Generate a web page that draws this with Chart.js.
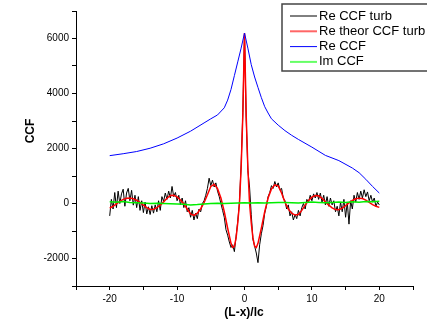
<!DOCTYPE html>
<html lang="en">
<head>
    <meta charset="UTF-8">
    <title>CCF</title>
    <script src="https://cdn.jsdelivr.net/npm/chart.js"></script>
    <style>
        body {
            margin: 0;
            padding: 0;
            background-color: #ffffff;
        }
    </style>
</head>
<body>
    <canvas id="ccfChart" width="427" height="326"></canvas>
    <script>
        // Re CCF turb: sampled every 0.25 from -20 to 20
        const turbStart = -20;
        const turbStep = 0.25;
        const reTurb = [
            -450, 150, -200, 400, -150, 450, 0, 350,
            520, -100, 380, 550, 100, 480, -60, 300,
            -150, 250, -250, 100, -330, 50, -380, -120,
            -400, -80, -350, -50, -300, 100, -250, 250,
            80, 380, 150, 450, 200, 620, 250, 400,
            100, 300, -50, 200, -150, 100, -300, -150,
            -500, -250, -600, -350, -550, -200, -300, 0,
            100, 300, 550, 920, 650, 850, 600, 750,
            450, 250, 0, -250, -500, -950, -1150, -1400,
            -1600, -1500, -1750, -1200, -650, 50, 1400, 3300,
            6200, 3100, 1200, 600, -400, -1300, -1550, -1800,
            -2150, -1500, -1100, -800, -350, -100, 250, 400,
            650, 550, 800, 600, 750, 500, 550, 200,
            100, -200, -50, -450, -300, -600, -400, -550,
            -250, -450, -150, 0, -200, 150, 50, 300,
            100, 350, 200, 400, 150, 380, 50, 300,
            -50, 250, -100, 200, -50, 100, -300, -100,
            -450, 50, -300, 150, -500, 50, -750, 100,
            -200, 300, 50, 400, 150, 450, 200, 500,
            250, 420, 100, 300, 50, 200, -100, 50,
            -50
        ];

        // Re theor CCF turb
        const theorX = [
            -20, -19.5, -19, -18.5, -18, -17.5, -17, -16.5, -16, -15.5,
            -15, -14.5, -14, -13.5, -13, -12.5, -12, -11.5, -11, -10.5,
            -10, -9.5, -9, -8.5, -8, -7.5, -7, -6.5, -6, -5.5,
            -5, -4.5, -4, -3.5, -3, -2.5, -2, -1.75, -1.5, -1.25,
            -1, -0.75, -0.5, -0.25, 0, 0.25, 0.5, 0.75, 1, 1.25,
            1.5, 1.75, 2, 2.5, 3, 3.5, 4, 4.5, 5, 5.5,
            6, 6.5, 7, 7.5, 8, 8.5, 9, 9.5, 10, 10.5,
            11, 11.5, 12, 12.5, 13, 13.5, 14, 14.5, 15, 15.5,
            16, 16.5, 17, 17.5, 18, 18.5, 19, 19.5, 20
        ];
        const theorY = [
            -170, -100, -10, 80, 150, 190, 200, 175, 120, 40,
            -60, -150, -215, -210, -150, -60, 60, 190, 290, 300,
            240, 130, -20, -200, -380, -430, -350, -190, 30, 320,
            620, 700, 540, 200, -300, -900, -1450, -1600, -1560, -1250,
            -700, 0, 1300, 3200, 6200, 3200, 1300, 0, -700, -1250,
            -1550, -1600, -1450, -900, -300, 200, 530, 680, 640, 380,
            50, -200, -350, -420, -400, -250, -60, 110, 230, 290,
            280, 190, 60, -60, -160, -220, -225, -170, -80, 20,
            110, 170, 195, 180, 120, 40, -40, -100, -140
        ];

        // Re CCF
        const reX = [
            -20, -18, -16, -14, -12, -10, -8, -6, -5, -4,
            -3, -2.5, -2, -1.5, -1, -0.5, 0, 0.5, 1, 1.5,
            2, 2.5, 3, 3.5, 4, 5, 6, 7, 8, 10,
            12, 14, 16, 17, 18, 19, 20
        ];
        const reY = [
            1740, 1810, 1890, 2010, 2170, 2380, 2630, 2930, 3080, 3220,
            3480, 3760, 4150, 4650, 5150, 5650, 6200, 5650, 5050, 4600,
            4220, 3850, 3520, 3290, 3080, 2850, 2650, 2480, 2330, 2050,
            1750, 1560, 1290, 1120, 880, 620, 380
        ];

        // Im CCF, every 1 from -20 to 20
        const imX = [
            -20, -19, -18, -17, -16, -15, -14, -13, -12, -11,
            -10, -9, -8, -7, -6, -5, -4, -3, -2, -1,
            0, 1, 2, 3, 4, 5, 6, 7, 8, 9,
            10, 11, 12, 13, 14, 15, 16, 17, 18, 19, 20
        ];
        const imY = [
            60, 50, 70, 40, 30, 20, 0, 10, 0, -10,
            -20, -30, -50, -40, -20, 0, 10, 0, 10, 20,
            30, 20, 30, 20, 30, 40, 40, 30, 20, 40,
            50, 40, 30, 40, 50, 40, 60, 50, 70, 60, 80
        ];

        const legendLabels = ['Re CCF turb', 'Re theor CCF turb', 'Re CCF', 'Im CCF'];
        const legendColors = ['#000000', '#ff6666', '#0000ff', '#66ff66'];

        function zip(xs, ys) {
            return ys.map((y, i) => ({ x: xs[i], y: y }));
        }

        const turbData = reTurb.map((y, i) => ({ x: turbStart + i * turbStep, y: y }));

        const fontFamily = '"Liberation Sans", Arial, sans-serif';

        // draws axis titles and the boxed legend like the original plot
        const decorations = {
            id: 'decorations',
            afterDraw(chart) {
                const c = chart.ctx;
                c.save();
                c.fillStyle = '#000';
                c.font = 'bold 12px ' + fontFamily;
                c.textAlign = 'center';
                c.textBaseline = 'middle';
                c.fillText('(L-x)/lc', 244, 313);
                c.translate(31, 131);
                c.rotate(-Math.PI / 2);
                c.fillText('CCF', 0, 0);
                c.restore();

                c.save();
                c.fillStyle = '#fff';
                c.fillRect(282, 4, 150, 67);
                c.strokeStyle = '#444';
                c.lineWidth = 1.5;
                c.strokeRect(282, 4, 150, 67);
                c.font = '13px ' + fontFamily;
                c.textBaseline = 'middle';
                c.textAlign = 'left';
                legendLabels.forEach((label, i) => {
                    const y = 16 + i * 15.3;
                    c.strokeStyle = legendColors[i];
                    c.lineWidth = (i === 1 || i === 3) ? 2 : 1;
                    c.beginPath();
                    c.moveTo(290, y);
                    c.lineTo(317, y);
                    c.stroke();
                    c.fillStyle = '#000';
                    c.fillText(label, 319, y);
                });
                c.restore();
            }
        };

        const ctx = document.getElementById('ccfChart').getContext('2d');
        new Chart(ctx, {
            type: 'line',
            data: {
                datasets: [
                    { label: 'Im CCF', data: zip(imX, imY), borderColor: '#00ee00', borderWidth: 1.5 },
                    { label: 'Re CCF', data: zip(reX, reY), borderColor: '#0000ff', borderWidth: 1 },
                    { label: 'Re theor CCF turb', data: zip(theorX, theorY), borderColor: '#ff0000', borderWidth: 1.5 },
                    { label: 'Re CCF turb', data: turbData, borderColor: '#000000', borderWidth: 1 }
                ]
            },
            options: {
                responsive: false,
                animation: false,
                devicePixelRatio: 1,
                elements: {
                    point: { radius: 0 },
                    line: { tension: 0 }
                },
                layout: {
                    padding: { top: 11, right: 14, left: 0, bottom: 0 }
                },
                plugins: {
                    legend: { display: false },
                    tooltip: { enabled: false }
                },
                scales: {
                    x: {
                        type: 'linear',
                        min: -25,
                        max: 25,
                        afterFit: s => { s.height = 40; },
                        ticks: {
                            stepSize: 5,
                            autoSkip: false,
                            maxRotation: 0,
                            padding: 3,
                            color: '#000',
                            font: { family: fontFamily, size: 10 },
                            callback: v => (v % 10 === 0 ? v : '')
                        },
                        grid: { drawOnChartArea: false, tickLength: 4, color: '#000' },
                        border: { color: '#000', width: 1 }
                    },
                    y: {
                        min: -3000,
                        max: 7000,
                        afterFit: s => { s.width = 76; },
                        ticks: {
                            stepSize: 1000,
                            padding: 3,
                            color: '#000',
                            font: { family: fontFamily, size: 10 },
                            callback: v => (v % 2000 === 0 ? v : '')
                        },
                        grid: { drawOnChartArea: false, tickLength: 4, color: '#000' },
                        border: { color: '#000', width: 1 }
                    }
                }
            },
            plugins: [decorations]
        });
    </script>
</body>
</html>
